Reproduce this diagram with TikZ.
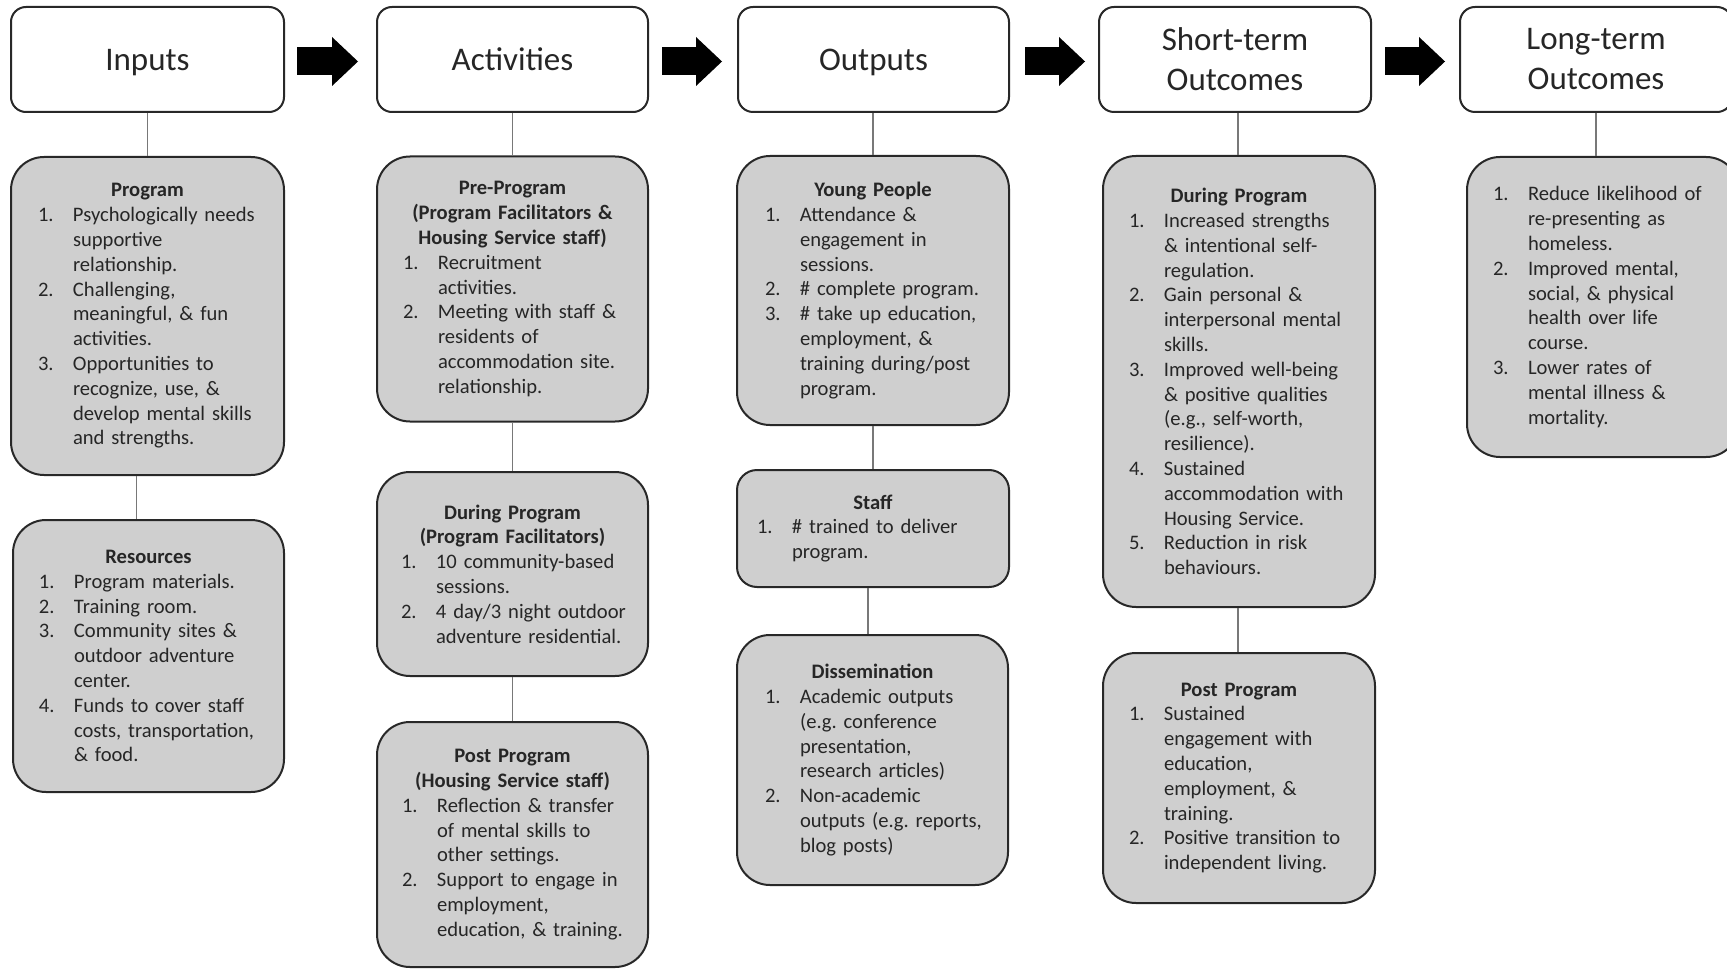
\documentclass[tikz,border=0pt]{standalone}
\usepackage{fontspec}
\setmainfont{Carlito}
\usetikzlibrary{arrows.meta}
\definecolor{boxgray}{RGB}{207,207,207}
\definecolor{ink}{RGB}{38,38,38}
\definecolor{edgec}{RGB}{40,40,40}
\definecolor{connc}{RGB}{120,120,120}
\newlength\numo
\newlength\hangw
\setlength\hangw{17.5pt}
\newcommand\nlbreak{\unskip\hfil\break}
\newcommand\ttl[1]{{\centering\bfseries #1\par}}
\newcommand\itm[2]{{\raggedright\let\\\nlbreak\leftskip=\numo\hangindent=\hangw\hangafter=1\noindent\makebox[\hangw][l]{#1}#2\par}}
\tikzset{
  hbox/.style={draw=edgec, line width=1pt, fill=white, rounded corners=7.5pt,
    minimum width=#1, minimum height=52.5pt, inner sep=0pt, align=center,
    text=ink, font=\fontsize{16.5pt}{20pt}\selectfont},
  oneline/.style={text height=14.5pt, text depth=3pt},
  gbox/.style={draw=edgec, line width=1pt, fill=boxgray, rounded corners=16.5pt,
    text width=#1, inner sep=0pt, text=ink, font=\fontsize{10.3pt}{12.4pt}\selectfont},
  cline/.style={draw=connc, line width=0.7pt},
  barrow/.style={draw=black, line width=14pt,
    -{Triangle[length=13pt,width=24.5pt,line width=0pt]}},
}
\begin{document}
\frenchspacing
\begin{tikzpicture}[x=0.5pt,y=-0.5pt]
\useasboundingbox (0,0) rectangle (1727,968);
\fill[white] (0,0) rectangle (1727,968);
\clip (0,0) rectangle (1727,968);

% headers
\node[hbox=136.5pt, oneline] (inH) at (147.5,59.5) {Inputs};
\node[hbox=135.5pt, oneline] (acH) at (512.5,59.5) {Activities};
\node[hbox=135.5pt, oneline] (ouH) at (873.5,59.5) {Outputs};
\node[hbox=136pt] (stH) at (1235,59.5) {Short-term\\Outcomes};
\node[hbox=136pt] (ltH) at (1596,59.5) {Long-term\\Outcomes};

% block arrows
\draw[barrow, shorten <=6pt, shorten >=9pt] ([yshift=-1pt]inH.east) -- ([yshift=-1pt]acH.west);
\draw[barrow, shorten <=6.5pt, shorten >=7.5pt] ([yshift=-1pt]acH.east) -- ([yshift=-1pt]ouH.west);
\draw[barrow, shorten <=7.5pt, shorten >=6.5pt] ([yshift=-1pt]ouH.east) -- ([yshift=-1pt]stH.west);
\draw[barrow, shorten <=6.5pt, shorten >=7pt] ([yshift=-1pt]stH.east) -- ([yshift=-1pt]ltH.west);

% Inputs column
\node[gbox=136.5pt, minimum height=159pt] (prog) at (147.5,316) {\setlength\numo{13.5pt}%
\ttl{Program}
\itm{1.}{Psychologically needs\\supportive\\relationship.}
\itm{2.}{Challenging,\\meaningful, \& fun\\activities.}
\itm{3.}{Opportunities to\\recognize, use, \&\\develop mental skills\\and strengths.}};
\node[gbox=135.5pt, minimum height=136pt] (res) at (148.5,656) {\setlength\numo{13pt}%
\ttl{Resources}
\itm{1.}{Program materials.}
\itm{2.}{Training room.}
\itm{3.}{Community sites \&\\outdoor adventure\\center.}
\itm{4.}{Funds to cover staff\\costs, transportation,\\\& food.}};

% Activities column
\node[gbox=135.5pt, minimum height=132.5pt] (pre) at (512.5,289) {\setlength\numo{13pt}%
\ttl{Pre-Program\\(Program Facilitators \&\\Housing Service staff)}
\itm{1.}{Recruitment\\activities.}
\itm{2.}{Meeting with staff \&\\residents of\\accommodation site.\\relationship.}};
\node[gbox=135.5pt, minimum height=102pt] (dur) at (512.5,574) {\setlength\numo{12pt}%
\ttl{During Program\\(Program Facilitators)}
\itm{1.}{10 community-based\\sessions.}
\itm{2.}{4 day/3 night outdoor\\adventure residential.}};
\node[gbox=135.5pt, minimum height=122.5pt] (post) at (512.5,844.5) {\setlength\numo{12.5pt}%
\ttl{Post Program\\(Housing Service staff)}
\itm{1.}{Reflection \& transfer\\of mental skills to\\other settings.}
\itm{2.}{Support to engage in\\employment,\\education, \& training.}};

% Outputs column
\node[gbox=136pt, minimum height=134.5pt] (yp) at (873,290.5) {\setlength\numo{14pt}%
\ttl{Young People}
\itm{1.}{Attendance \&\\engagement in\\sessions.}
\itm{2.}{\# complete program.}
\itm{3.}{\# take up education,\\employment, \&\\training during/post\\program.}};
\node[gbox=136pt, minimum height=58.5pt, rounded corners=10pt] (staff) at (873,528.5) {\setlength\numo{10pt}%
\ttl{Staff}
\itm{1.}{\# trained to deliver\\program.}};
\node[gbox=135.5pt, minimum height=125pt] (diss) at (872.5,760) {\setlength\numo{14pt}%
\ttl{Dissemination}
\itm{1.}{Academic outputs\\(e.g. conference\\presentation,\\research articles)}
\itm{2.}{Non-academic\\outputs (e.g. reports,\\blog posts)}};

% Short-term column
\node[gbox=136pt, minimum height=225.5pt] (std) at (1239,381.5) {\setlength\numo{13pt}%
\ttl{During Program}
\itm{1.}{Increased strengths\\\& intentional self-\\regulation.}
\itm{2.}{Gain personal \&\\interpersonal mental\\skills.}
\itm{3.}{Improved well-being\\\& positive qualities\\(e.g., self-worth,\\resilience).}
\itm{4.}{Sustained\\accommodation with\\Housing Service.}
\itm{5.}{Reduction in risk\\behaviours.}};
\node[gbox=136pt, minimum height=125pt] (stp) at (1239,778) {\setlength\numo{13pt}%
\ttl{Post Program}
\itm{1.}{Sustained\\engagement with\\education,\\employment, \&\\training.}
\itm{2.}{Positive transition to\\independent living.}};

% Long-term column
\node[gbox=136pt, minimum height=150pt] (lt) at (1603,307) {\setlength\numo{13pt}%
\itm{1.}{Reduce likelihood of\\re-presenting as\\homeless.}
\itm{2.}{Improved mental,\\social, \& physical\\health over life\\course.}
\itm{3.}{Lower rates of\\mental illness \&\\mortality.}};

% connectors
\draw[cline] (inH.south) -- (inH.south |- prog.north);
\coordinate (pr) at ([xshift=-6pt]res.north);
\draw[cline] (pr) -- (pr |- prog.south);
\draw[cline] (pre.north) -- (pre.north |- acH.south);
\draw[cline] (pre.south) -- (pre.south |- dur.north);
\draw[cline] (dur.south) -- (dur.south |- post.north);
\draw[cline] (yp.north) -- (yp.north |- ouH.south);
\draw[cline] (yp.south) -- (yp.south |- staff.north);
\coordinate (sd) at ([xshift=-2.5pt]staff.south);
\draw[cline] (sd) -- (sd |- diss.north);
\coordinate (sa) at ([xshift=-0.5pt]std.north);
\draw[cline] (sa) -- (sa |- stH.south);
\draw[cline] (sa |- std.south) -- (sa |- stp.north);
\draw[cline] (ltH.south) -- (ltH.south |- lt.north);
\end{tikzpicture}
\end{document}
